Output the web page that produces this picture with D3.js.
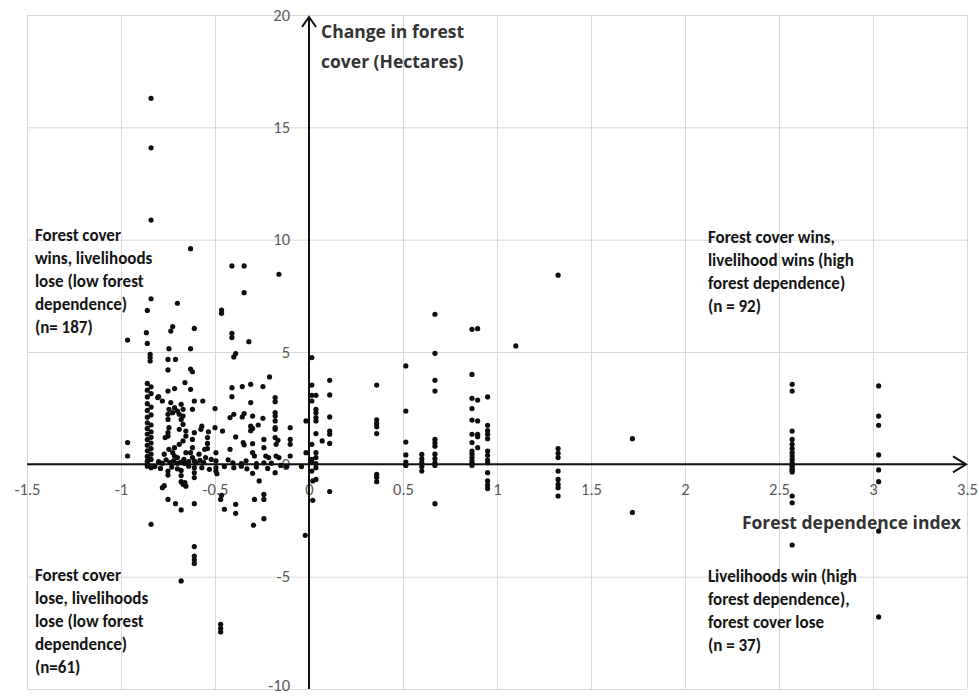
<!DOCTYPE html>
<html>
<head>
<meta charset="utf-8">
<script src="https://cdn.jsdelivr.net/npm/d3@7"></script>
<style>
  body { margin: 0; background: #fff; }
  svg { display: block; }
</style>
</head>
<body>
<svg id="chart" width="979" height="697"></svg>
<script>
// Axis ticks and titles
const xTicks = [-1.5, -1, -0.5, 0, 0.5, 1, 1.5, 2, 2.5, 3, 3.5];
const yTicks = [-10, -5, 0, 5, 10, 15, 20];
const xTitle = "Forest dependence index";
const yTitleLines = ["Change in forest", "cover (Hectares)"];

// Quadrant notes
const notesTopLeft = ["Forest cover", "wins, livelihoods", "lose (low forest", "dependence)", "(n= 187)"];
const notesTopRight = ["Forest cover wins,", "livelihood wins (high", "forest dependence)", "(n = 92)"];
const notesBottomLeft = ["Forest cover", "lose, livelihoods", "lose (low forest", "dependence)", "(n=61)"];
const notesBottomRight = ["Livelihoods win (high", "forest dependence),", "forest cover lose", "(n = 37)"];

// Villages: [forest dependence index, change in forest cover (ha)]
// Forest cover wins, livelihoods lose (low forest dependence)
const coverWinsLowDependence = [
  [-0.84, 16.29], [-0.84, 14.09], [-0.84, 10.87], [-0.63, 9.60], [-0.41, 8.83], [-0.345, 8.83], [-0.16, 8.46], [-0.345, 7.64],
  [-0.84, 7.37], [-0.70, 7.17], [-0.86, 6.85], [-0.465, 6.87], [-0.465, 6.72], [-0.725, 6.13], [-0.735, 5.93], [-0.61, 6.05],
  [-0.41, 5.83], [-0.41, 5.64], [-0.865, 5.86], [-0.965, 5.53], [-0.32, 5.46], [-0.86, 5.38], [-0.745, 5.15], [-0.63, 5.15],
  [-0.39, 4.93], [-0.40, 4.78], [-0.845, 4.90], [-0.845, 4.75], [-0.845, 4.60], [-0.75, 4.67], [-0.71, 4.67], [-0.75, 4.20],
  [-0.63, 4.24], [-0.62, 4.12], [-0.21, 3.89], [-0.66, 3.64],
  [-0.75, 3.26], [-0.715, 3.37], [-0.63, 3.34], [-0.80, 3.01], [-0.41, 3.41], [-0.355, 3.46], [-0.31, 3.56], [-0.245, 3.46],
  [-0.41, 3.01], [-0.18, 2.97], [-0.31, 2.75], [-0.18, 2.79], [-0.18, 2.30], [-0.18, 2.15], [-0.42, 2.08], [-0.40, 2.23],
  [-0.355, 2.11], [-0.345, 2.26], [-0.30, 2.15], [-0.245, 2.05], [-0.31, 1.70], [-0.30, 1.60], [-0.31, 1.50], [-0.27, 1.75],
  [-0.18, 1.63], [-0.10, 1.63], [-0.39, 1.22], [-0.35, 0.97], [-0.345, 0.87], [-0.30, 0.92], [-0.24, 1.11], [-0.24, 0.74],
  [-0.175, 0.89], [-0.165, 1.07], [-0.10, 1.11], [-0.10, 0.89], [-0.42, 0.67], [-0.30, 0.52], [-0.29, 0.37], [-0.23, 0.37],
  [-0.215, 0.30], [-0.175, 0.37], [-0.16, 0.30], [-0.10, 0.37], [-0.016, 0.52], [-0.016, 1.93], [-0.43, 0.20], [-0.405, 0.07],
  [-0.36, 0.03], [-0.335, 0.15], [-0.28, 0.03], [-0.24, 0.07], [-0.20, 0.05], [-0.18, 1.93], [-0.18, 1.56], [-0.18, 1.19],
  [-0.50, 2.48], [-0.46, 1.48], [-0.535, 1.45], [-0.54, 1.19], [-0.54, 0.93], [-0.54, 0.70], [-0.57, 1.70], [-0.495, 0.52],
  [-0.495, 0.15], [-0.50, 1.63],
  [-0.805, 2.97], [-0.78, 2.82], [-0.735, 2.75], [-0.715, 2.52], [-0.745, 2.45], [-0.725, 2.30], [-0.68, 2.67], [-0.67, 2.45],
  [-0.69, 2.23], [-0.75, 2.00], [-0.68, 2.00], [-0.67, 1.78], [-0.69, 1.56], [-0.745, 1.63], [-0.75, 1.26], [-0.765, 1.19],
  [-0.655, 1.48], [-0.655, 1.26], [-0.67, 1.04], [-0.69, 0.89], [-0.715, 0.74], [-0.745, 0.67], [-0.725, 0.52], [-0.77, 0.45],
  [-0.715, 0.37], [-0.70, 0.30], [-0.655, 0.52], [-0.63, 0.52], [-0.62, 0.74], [-0.62, 0.30], [-0.665, 0.22], [-0.61, 0.15],
  [-0.585, 0.45], [-0.555, 0.67], [-0.61, 2.82], [-0.565, 2.82], [-0.55, 0.30], [-0.52, 0.22],
  [-0.965, 0.97], [-0.965, 0.37],
  [-0.70, 2.37], [-0.75, 2.23], [-0.67, 2.15], [-0.62, 2.45], [-0.575, 1.56], [-0.61, 1.41], [-0.62, 1.11], [-0.75, 1.41],
  [-0.80, 0.12], [-0.78, 0.05], [-0.76, 0.20], [-0.74, 0.08], [-0.72, 0.15], [-0.70, 0.05], [-0.68, 0.10], [-0.66, 0.04],
  [-0.64, 0.12], [-0.60, 0.06], [-0.58, 0.18], [-0.56, 0.08],
  [-0.86, 3.60], [-0.86, 3.30], [-0.86, 3.00], [-0.86, 2.70], [-0.86, 2.40], [-0.86, 2.10], [-0.86, 1.85], [-0.86, 1.60],
  [-0.86, 1.35], [-0.86, 1.10], [-0.86, 0.85], [-0.86, 0.60], [-0.86, 0.35], [-0.86, 0.15], [-0.86, 0.05],
  [-0.84, 3.45], [-0.84, 3.15], [-0.84, 2.55], [-0.84, 2.20], [-0.84, 1.75], [-0.84, 1.45], [-0.84, 1.20], [-0.84, 0.95],
  [-0.84, 0.70], [-0.84, 0.45], [-0.84, 0.22]
];

// Forest cover wins, livelihood wins (high forest dependence)
const coverWinsHighDependence = [
  [0.015, 4.75], [0.015, 3.53], [0.015, 3.07], [0.015, 2.82], [0.015, 0.89], [0.015, 0.22], [0.015, 0.10],
  [0.037, 3.07], [0.037, 2.45], [0.037, 2.30], [0.037, 2.08], [0.037, 1.93], [0.037, 1.37], [0.037, 0.52], [0.037, 0.30], [0.037, 0.03],
  [0.07, 1.04],
  [0.11, 3.74], [0.11, 3.09], [0.11, 2.11], [0.11, 1.48], [0.11, 1.34], [0.11, 0.93],
  [0.36, 3.53], [0.36, 1.98], [0.36, 1.82], [0.36, 1.67], [0.36, 1.37],
  [0.515, 4.38], [0.515, 2.37], [0.515, 0.99], [0.515, 0.42], [0.515, 0.10],
  [0.60, 0.44], [0.60, 0.24], [0.60, 0.08],
  [0.67, 6.68], [0.67, 4.94], [0.67, 3.74], [0.67, 3.26], [0.67, 1.11], [0.67, 0.96], [0.67, 0.81], [0.67, 0.45], [0.67, 0.25], [0.67, 0.07],
  [0.867, 6.01], [0.867, 4.00], [0.867, 2.94], [0.867, 2.48], [0.867, 1.97], [0.867, 1.34], [0.867, 0.97], [0.867, 0.59],
  [0.867, 0.45], [0.867, 0.30], [0.867, 0.15], [0.867, 0.04],
  [0.897, 6.04], [0.897, 2.86], [0.897, 1.93], [0.897, 1.34], [0.897, 1.23], [0.897, 0.74],
  [0.95, 3.00], [0.95, 1.74], [0.95, 1.50], [0.95, 1.34], [0.95, 1.14], [0.95, 0.59], [0.95, 0.40], [0.95, 0.19], [0.95, 0.07],
  [1.10, 5.27],
  [1.325, 8.42], [1.325, 0.70], [1.325, 0.49], [1.325, 0.30],
  [1.72, 1.14],
  [2.57, 3.56], [2.57, 3.26], [2.57, 1.48], [2.57, 1.11], [2.57, 0.89], [2.57, 0.70], [2.57, 0.52], [2.57, 0.37], [2.57, 0.22], [2.57, 0.07],
  [3.03, 3.49], [3.03, 2.15], [3.03, 1.74], [3.03, 0.42]
];

// Forest cover loses, livelihoods lose (low forest dependence)
const coverLosesLowDependence = [
  [-0.75, -0.30], [-0.75, -0.48], [-0.68, -0.27], [-0.68, -0.50], [-0.68, -0.77], [-0.61, -0.15], [-0.61, -0.37], [-0.61, -0.59],
  [-0.495, -0.15], [-0.495, -0.30], [-0.49, -0.42], [-0.77, -0.95], [-0.78, -1.04], [-0.67, -0.89], [-0.66, -0.81], [-0.75, -1.56],
  [-0.71, -1.75], [-0.68, -2.03], [-0.61, -1.75], [-0.84, -2.67], [-0.61, -3.66], [-0.61, -4.08], [-0.61, -4.25], [-0.61, -4.41],
  [-0.68, -5.19], [-0.47, -7.12], [-0.47, -7.30], [-0.47, -7.46], [-0.47, -1.56], [-0.465, -1.38], [-0.45, -2.00], [-0.39, -1.78],
  [-0.39, -2.18], [-0.265, -0.74], [-0.29, -1.56], [-0.24, -1.34], [-0.24, -1.56], [-0.295, -2.71], [-0.24, -2.42], [-0.18, -0.37],
  [-0.02, -3.16],
  [-0.82, -0.10], [-0.79, -0.18], [-0.73, -0.12], [-0.70, -0.20], [-0.64, -0.08], [-0.57, -0.15], [-0.53, -0.22], [-0.45, -0.10],
  [-0.40, -0.15], [-0.36, -0.08], [-0.33, -0.20], [-0.28, -0.12], [-0.22, -0.18], [-0.15, -0.05], [-0.12, -0.10], [-0.04, -0.10],
  [-0.86, -0.08], [-0.84, -0.15], [-0.655, -0.97], [-0.30, -0.40]
];

// Livelihoods win (high forest dependence), forest cover loses
const coverLosesHighDependence = [
  [0.02, -0.74], [0.02, -1.60], [0.037, -0.15], [0.037, -0.67], [0.11, -1.21], [0.36, -0.45], [0.36, -0.59], [0.36, -0.77],
  [0.60, -0.30], [0.67, -1.75], [0.95, -0.37], [0.95, -0.74], [0.95, -0.92], [0.95, -1.08], [1.325, -0.30], [1.325, -0.67],
  [1.325, -0.89], [1.325, -1.04], [1.325, -1.41], [1.72, -2.14], [2.57, -0.07], [2.57, -0.22], [2.57, -0.34], [2.57, -1.41],
  [2.57, -1.71], [2.57, -3.59], [3.03, -0.25], [3.03, -0.77], [3.03, -2.97], [3.03, -6.79], [0.867, -0.05], [0.67, -0.05],
  [0.515, -0.05], [0.015, -0.30], [2.57, -0.12], [2.57, -0.28], [0.60, -0.10]
];

const svg = d3.select("#chart");
const x = d3.scaleLinear().domain([-1.5, 3.5]).range([27, 967]);
const y = d3.scaleLinear().domain([-10, 20]).range([689, 15]);

const gridColor = "#d9d9d9";

// Vertical grid
svg.append("g")
  .attr("transform", `translate(0,${y(-10)})`)
  .call(d3.axisBottom(x).tickValues(xTicks).tickSize(-(y(-10) - y(20))).tickFormat(""))
  .call(g => g.select(".domain").remove())
  .call(g => g.selectAll("line").attr("stroke", gridColor));

// Horizontal grid
svg.append("g")
  .attr("transform", `translate(${x(-1.5)},0)`)
  .call(d3.axisLeft(y).tickValues(yTicks).tickSize(-(x(3.5) - x(-1.5))).tickFormat(""))
  .call(g => g.select(".domain").remove())
  .call(g => g.selectAll("line").attr("stroke", gridColor));

// Tick labels, placed along the zero axes
const tickFont = "Carlito, Lato, 'Liberation Sans', sans-serif";
svg.append("g")
  .attr("transform", `translate(${x(0)},0)`)
  .call(d3.axisLeft(y).tickValues(yTicks).tickSize(0).tickPadding(19).tickFormat(d => String(d)))
  .call(g => g.select(".domain").remove())
  .call(g => g.selectAll("text")
    .attr("fill", "#595959")
    .attr("dy", d => d === -10 ? "0.1em" : "0.32em")
    .style("font-family", tickFont).style("font-size", "16.5px"));

svg.append("g")
  .attr("transform", `translate(0,${y(0)})`)
  .call(d3.axisBottom(x).tickValues(xTicks).tickSize(0).tickPadding(19).tickFormat(d => String(d)))
  .call(g => g.select(".domain").remove())
  .call(g => g.selectAll("text").attr("fill", "#595959").style("font-family", tickFont).style("font-size", "16.5px"));

// Black zero axes with open arrow heads
const axisColor = "#111";
svg.append("line")
  .attr("x1", x(-1.5)).attr("x2", x(3.5) - 1)
  .attr("y1", y(0)).attr("y2", y(0))
  .attr("stroke", axisColor).attr("stroke-width", 2);
svg.append("path")
  .attr("d", `M${x(3.5) - 14},${y(0) - 8}L${x(3.5) - 1},${y(0)}L${x(3.5) - 14},${y(0) + 8}`)
  .attr("fill", "none").attr("stroke", axisColor).attr("stroke-width", 2);

svg.append("line")
  .attr("x1", x(0)).attr("x2", x(0))
  .attr("y1", y(-10)).attr("y2", y(20) + 2)
  .attr("stroke", axisColor).attr("stroke-width", 2);
svg.append("path")
  .attr("d", `M${x(0) - 7},${y(20) + 12}L${x(0)},${y(20) + 2}L${x(0) + 7},${y(20) + 12}`)
  .attr("fill", "none").attr("stroke", axisColor).attr("stroke-width", 2);

// Points
const allPoints = [].concat(coverWinsLowDependence, coverWinsHighDependence, coverLosesLowDependence, coverLosesHighDependence);
svg.append("g")
  .selectAll("circle")
  .data(allPoints)
  .join("circle")
  .attr("cx", d => x(d[0]))
  .attr("cy", d => y(d[1]))
  .attr("r", 2.6)
  .attr("fill", "#0d0d0d");

// Axis titles
const titleFont = "'Open Sans', 'DejaVu Sans', sans-serif";
svg.append("text")
  .attr("x", x(0) + 12).attr("y", y(20) + 23)
  .style("font-family", titleFont).style("font-weight", 700).style("font-size", "17.5px")
  .attr("fill", "#333")
  .selectAll("tspan").data(yTitleLines).join("tspan")
  .attr("x", x(0) + 12).attr("dy", (d, i) => i === 0 ? 0 : 30)
  .text(d => d);

svg.append("text")
  .attr("x", x(3.5) - 6).attr("y", y(0) + 65)
  .attr("text-anchor", "end")
  .style("font-family", titleFont).style("font-weight", 700).style("font-size", "17.5px")
  .attr("fill", "#333")
  .text(xTitle);

// Quadrant notes
const noteFont = "Carlito, 'Liberation Sans Narrow', 'Arial Narrow', Lato, sans-serif";
function note(lines, dx, dy) {
  svg.append("text")
    .style("font-family", noteFont).style("font-weight", 700).style("font-size", "17px")
    .attr("fill", "#141414")
    .selectAll("tspan").data(lines).join("tspan")
    .attr("x", x(dx)).attr("y", (d, i) => y(dy) + 6 + i * 22.9)
    .text(d => d);
}
note(notesTopLeft, -1.458, 10.2);
note(notesTopRight, 2.122, 10.1);
note(notesBottomLeft, -1.458, -4.93);
note(notesBottomRight, 2.122, -4.97);
</script>
</body>
</html>
